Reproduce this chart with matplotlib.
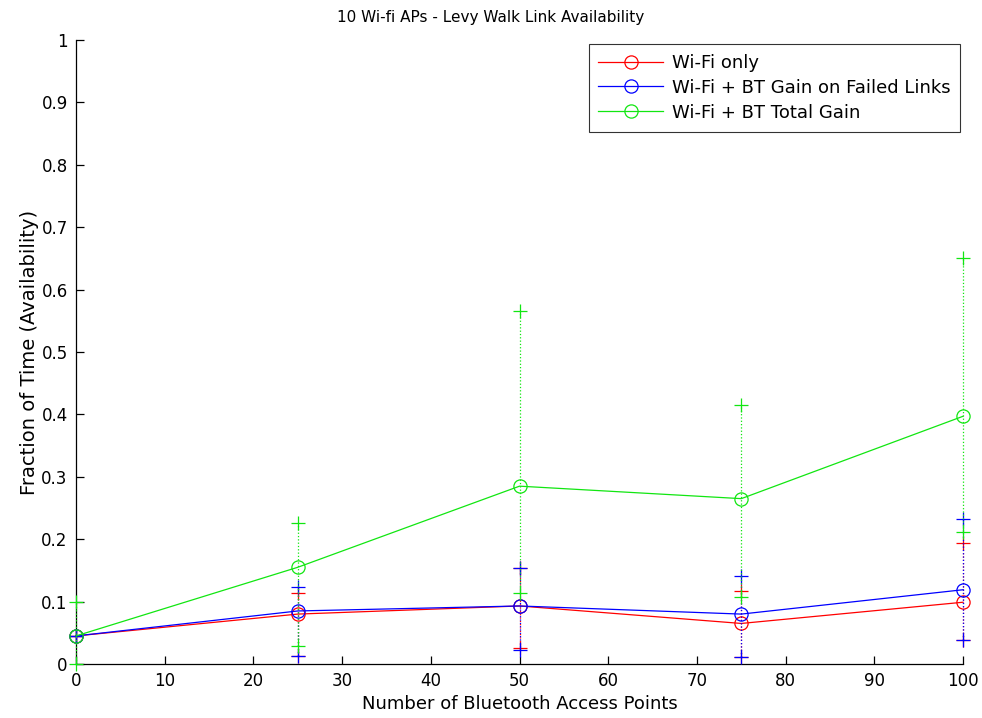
import matplotlib
matplotlib.use("Agg")
import matplotlib.pyplot as plt

plt.rcParams['font.family'] = ['DejaVu Sans']

x = [0, 25, 50, 75, 100]

wifi = [0.045, 0.080, 0.093, 0.065, 0.099]
wifi_lo = [0.045, 0.013, 0.025, 0.011, 0.038]
wifi_hi = [0.045, 0.113, 0.154, 0.117, 0.194]

btfail = [0.045, 0.085, 0.093, 0.080, 0.119]
btfail_lo = [0.045, 0.013, 0.022, 0.011, 0.038]
btfail_hi = [0.045, 0.123, 0.154, 0.141, 0.232]

total = [0.045, 0.155, 0.285, 0.265, 0.397]
total_lo = [0.0, 0.029, 0.114, 0.107, 0.211]
total_hi = [0.099, 0.226, 0.566, 0.415, 0.650]

labels = ['Wi-Fi only', 'Wi-Fi + BT Gain on Failed Links', 'Wi-Fi + BT Total Gain']
xticks = [0, 10, 20, 30, 40, 50, 60, 70, 80, 90, 100]
yticks = [0, 0.1, 0.2, 0.3, 0.4, 0.5, 0.6, 0.7, 0.8, 0.9, 1]

RED = '#ff0000'
BLUE = '#0000ff'
GREEN = '#11e611'

fig = plt.figure(figsize=(9.82, 7.18), dpi=100)
ax = fig.add_axes([0.0774, 0.0752, 0.9033, 0.8691])

series = [
    (wifi, wifi_lo, wifi_hi, RED, labels[0]),
    (btfail, btfail_lo, btfail_hi, BLUE, labels[1]),
    (total, total_lo, total_hi, GREEN, labels[2]),
]

handles = []
z = 2
for y, lo, hi, c, lab in series:
    for xi, l, h in zip(x, lo, hi):
        ax.plot([xi, xi], [l, h], linestyle=':', color=c, lw=0.9, zorder=z, clip_on=False)
    ax.plot(x, lo, linestyle='none', marker='+', color=c, markersize=10, mew=0.9,
            zorder=z, clip_on=False)
    ax.plot(x, hi, linestyle='none', marker='+', color=c, markersize=10, mew=0.9,
            zorder=z, clip_on=False)
    h, = ax.plot(x, y, color=c, lw=0.9, marker='o', markersize=9.5,
                 markerfacecolor='none', markeredgecolor=c, mew=0.9, zorder=z,
                 label=lab, clip_on=False)
    handles.append(h)
    z += 1

ax.set_xlim(0, 100)
ax.set_ylim(0, 1)
ax.set_xticks(xticks)
ax.set_xticklabels([str(v) for v in xticks])
ax.set_yticks(yticks)
ax.set_yticklabels(['0', '0.1', '0.2', '0.3', '0.4', '0.5', '0.6', '0.7', '0.8', '0.9', '1'])
ax.tick_params(direction='in', length=6, width=0.9, labelsize=12, pad=6)
ax.spines['top'].set_visible(False)
ax.spines['right'].set_visible(False)
ax.spines['left'].set_linewidth(0.9)
ax.spines['bottom'].set_linewidth(0.9)

ax.set_xlabel('Number of Bluetooth Access Points', fontsize=13, labelpad=3)
ax.set_ylabel('Fraction of Time (Availability)', fontsize=14, labelpad=2)
fig.text(0.5, 0.975, '10 Wi-fi APs - Levy Walk Link Availability', fontsize=11,
         ha='center', va='center')

leg = ax.legend(handles, labels, loc='upper right',
                bbox_to_anchor=(0.9967, 0.9936), borderaxespad=0, fontsize=13,
                frameon=True, fancybox=False, edgecolor='black', handlelength=3.6,
                borderpad=0.55, labelspacing=0.38, handletextpad=0.45)
leg.get_frame().set_linewidth(0.8)

fig.savefig('out.png', dpi=100)
